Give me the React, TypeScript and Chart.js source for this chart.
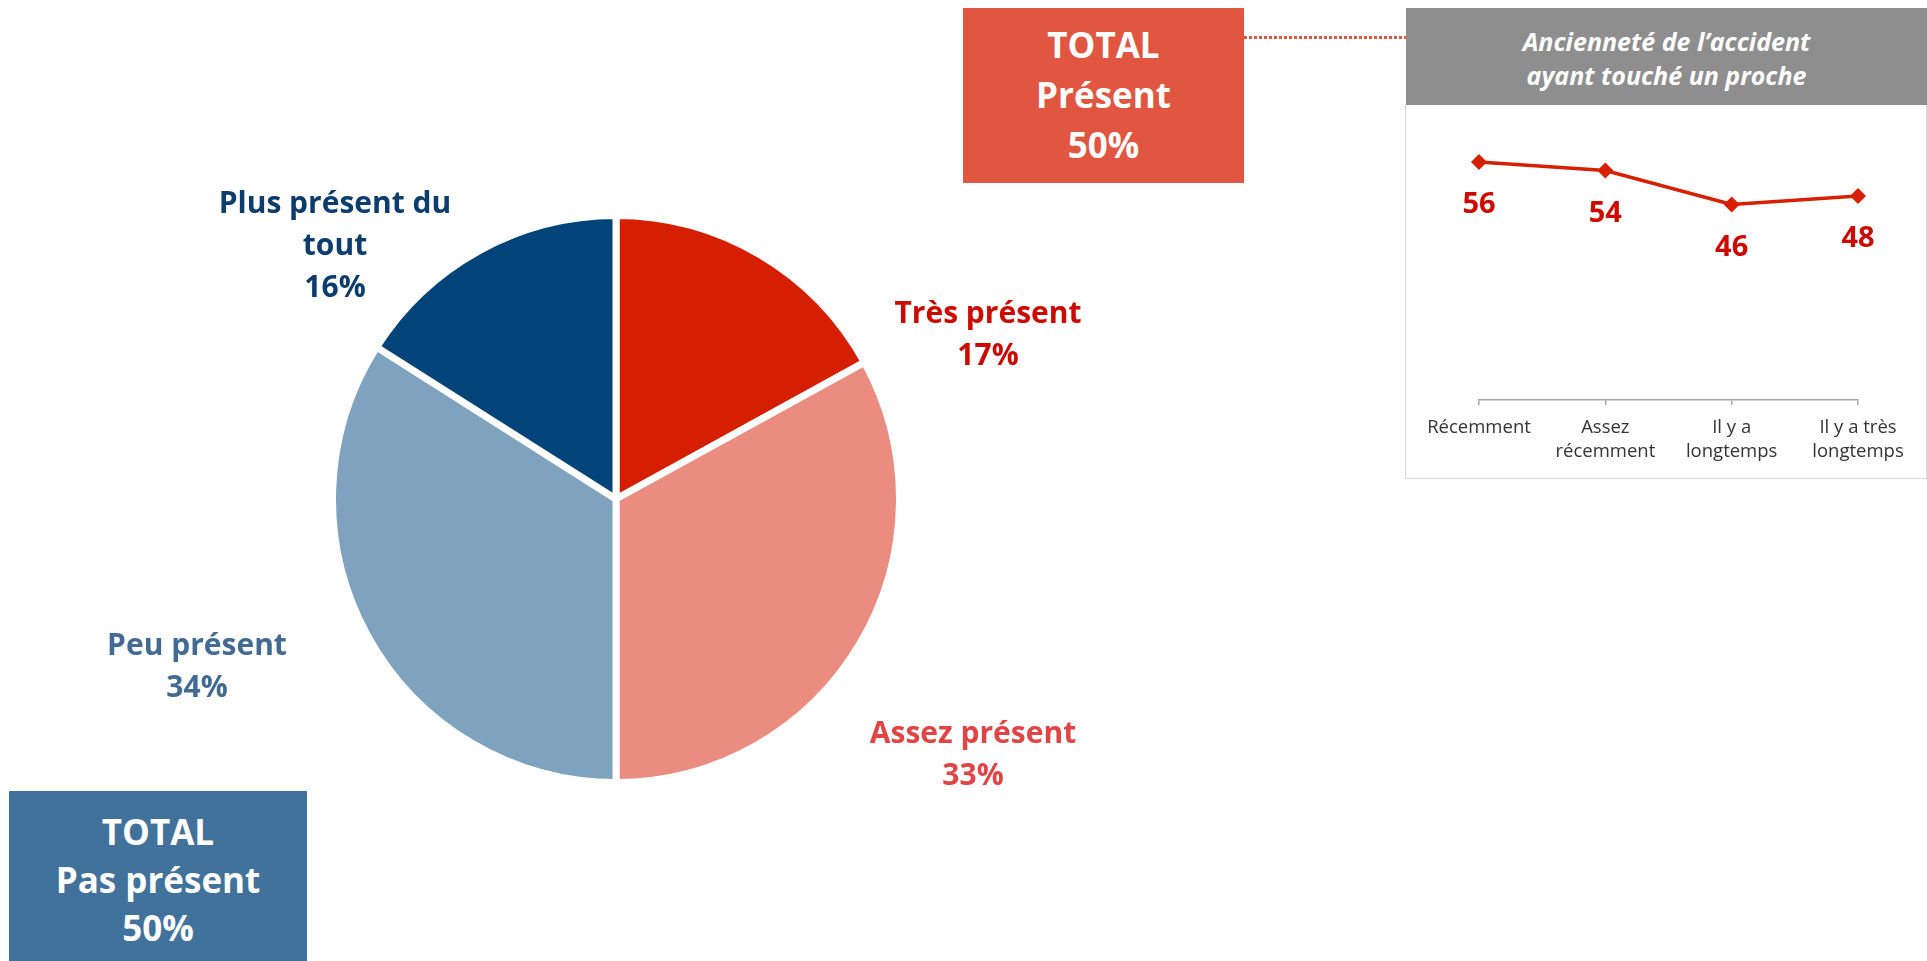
import React, { useEffect, useRef } from 'react';
import { Chart, registerables } from 'chart.js';

Chart.register(...registerables);

// ---------- DATA ----------
const pieLabels: string[][] = [['Très présent'], ['Assez présent'], ['Peu présent'], ['Plus présent du', 'tout']];
const pieValues: number[] = [17, 33, 34, 16];
const pieColors: string[] = ['#D61F00', '#EA8C7F', '#7FA2BE', '#02447A'];
const pieLabelColors: string[] = ['#CC0A00', '#E04444', '#436A92', '#0D3D6E'];

const lineCategories: string[][] = [['Récemment'], ['Assez', 'récemment'], ['Il y a', 'longtemps'], ['Il y a très', 'longtemps']];
const lineValues: number[] = [56, 54, 46, 48];
const lineYMin = 0;
const lineYMax = 60;

const totalPresentLines: string[] = ['TOTAL', 'Présent', '50%'];
const totalPasPresentLines: string[] = ['TOTAL', 'Pas présent', '50%'];
const headerLines: string[] = ['Ancienneté de l’accident', 'ayant touché un proche'];

// label anchor positions (layout only)
const pieLabelPos = [
  { cx: 988, top: 291 },
  { cx: 973, top: 711 },
  { cx: 197, top: 623 },
  { cx: 335, top: 181 },
];

const FONT = '"Open Sans", "Noto Sans", sans-serif';

const valueLabelPlugin = {
  id: 'valueLabels',
  afterDatasetsDraw(chart: any) {
    const ctx = chart.ctx;
    const meta = chart.getDatasetMeta(0);
    ctx.save();
    ctx.font = `bold 29px ${FONT}`;
    ctx.fillStyle = '#CC0A00';
    ctx.textAlign = 'center';
    ctx.textBaseline = 'middle';
    meta.data.forEach((pt: any, i: number) => {
      ctx.fillText(String(chart.data.datasets[0].data[i]), pt.x, pt.y + 43);
    });
    ctx.restore();
  },
};

export default function App() {
  const pieRef = useRef<HTMLCanvasElement | null>(null);
  const lineRef = useRef<HTMLCanvasElement | null>(null);

  useEffect(() => {
    document.body.style.margin = '0';
    const pie = new Chart(pieRef.current as HTMLCanvasElement, {
      type: 'pie',
      data: {
        labels: pieLabels.map((l) => l.join(' ')),
        datasets: [
          {
            data: pieValues,
            backgroundColor: pieColors,
            borderColor: '#FFFFFF',
            borderWidth: 7,
          },
        ],
      },
      options: {
        animation: false,
        responsive: false,
        maintainAspectRatio: false,
        layout: { padding: 0 },
        plugins: { legend: { display: false }, tooltip: { enabled: false } },
      },
    });

    const line = new Chart(lineRef.current as HTMLCanvasElement, {
      type: 'line',
      data: {
        labels: lineCategories,
        datasets: [
          {
            data: lineValues,
            borderColor: '#D62000',
            backgroundColor: '#D62000',
            borderWidth: 3.5,
            pointStyle: 'rectRot',
            pointRadius: 8,
            pointBackgroundColor: '#D62000',
            pointBorderWidth: 0,
            tension: 0,
          },
        ],
      },
      options: {
        animation: false,
        responsive: false,
        maintainAspectRatio: false,
        layout: { padding: { left: 73, right: 68, top: 40, bottom: 0 } },
        plugins: { legend: { display: false }, tooltip: { enabled: false } },
        scales: {
          x: {
            offset: false,
            grid: { drawOnChartArea: false, tickLength: 5, color: '#A6A6A6', lineWidth: 1.5 },
            border: { color: '#A6A6A6', width: 1.5 },
            ticks: {
              color: '#333333',
              font: { family: FONT, size: 18.5, lineHeight: 1.3 },
              padding: 11,
              maxRotation: 0,
              autoSkip: false,
            },
            afterFit: (s: any) => {
              s.height = 78;
            },
          },
          y: { display: false, min: lineYMin, max: lineYMax },
        },
      },
      plugins: [valueLabelPlugin],
    });

    return () => {
      pie.destroy();
      line.destroy();
    };
  }, []);

  const abs = (s: React.CSSProperties): React.CSSProperties => ({ position: 'absolute', ...s });

  return (
    <div style={abs({ left: 0, top: 0, width: 1927, height: 961, overflow: 'hidden', background: '#FFFFFF', fontFamily: FONT })}>
      <canvas ref={pieRef} width={574} height={574} style={abs({ left: 329, top: 212, width: 574, height: 574 })} />

      {pieLabels.map((lines, i) => (
        <div
          key={i}
          style={abs({
            left: pieLabelPos[i].cx - 200,
            top: pieLabelPos[i].top,
            width: 400,
            textAlign: 'center',
            fontWeight: 700,
            fontSize: 30,
            lineHeight: '42px',
            color: pieLabelColors[i],
            whiteSpace: 'nowrap',
          })}
        >
          {lines.map((t, j) => (
            <div key={j}>{t}</div>
          ))}
          <div>{pieValues[i]}%</div>
        </div>
      ))}

      {/* TOTAL Présent box */}
      <div
        style={abs({
          left: 963,
          top: 8,
          width: 281,
          height: 175,
          background: '#E15641',
          color: '#FFFFFF',
          fontWeight: 700,
          fontSize: 35,
          lineHeight: '50px',
          textAlign: 'center',
          paddingTop: 12,
          boxSizing: 'border-box',
        })}
      >
        {totalPresentLines.map((t, j) => (
          <div key={j}>{t}</div>
        ))}
      </div>

      {/* dotted connector */}
      <div
        style={abs({
          left: 1244,
          top: 36,
          width: 162,
          height: 3,
          background: 'repeating-linear-gradient(to right, #E15641 0px, #E15641 3px, transparent 3px, transparent 5px)',
        })}
      />

      {/* header */}
      <div
        style={abs({
          left: 1406,
          top: 8,
          width: 521,
          height: 97,
          background: '#8E8E8E',
          color: '#FFFFFF',
          fontWeight: 700,
          fontStyle: 'italic',
          fontSize: 25,
          lineHeight: '34px',
          textAlign: 'center',
          paddingTop: 16,
          boxSizing: 'border-box',
        })}
      >
        {headerLines.map((t, j) => (
          <div key={j}>{t}</div>
        ))}
      </div>

      {/* line chart panel */}
      <div
        style={abs({
          left: 1405,
          top: 105,
          width: 522,
          height: 374,
          border: '1px solid #D9D9D9',
          borderTop: 'none',
          boxSizing: 'border-box',
        })}
      />
      <canvas ref={lineRef} width={520} height={373} style={abs({ left: 1406, top: 105, width: 520, height: 373 })} />

      {/* TOTAL Pas présent box */}
      <div
        style={abs({
          left: 9,
          top: 791,
          width: 298,
          height: 170,
          background: '#41729B',
          color: '#FFFFFF',
          fontWeight: 700,
          fontSize: 35,
          lineHeight: '48px',
          textAlign: 'center',
          paddingTop: 17,
          boxSizing: 'border-box',
        })}
      >
        {totalPasPresentLines.map((t, j) => (
          <div key={j}>{t}</div>
        ))}
      </div>
    </div>
  );
}
